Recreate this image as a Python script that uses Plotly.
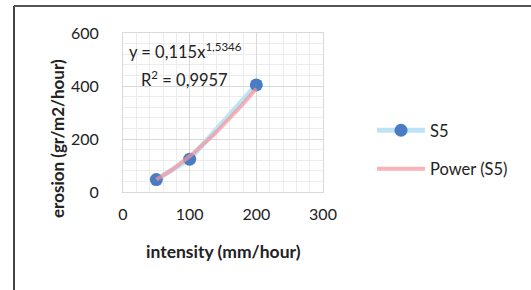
import numpy as np
import plotly.graph_objects as go

intensity = [50, 100, 200]
erosion = [47, 124, 404]
fit_a = 0.115
fit_b = 1.5346
series_name = "S5"
trend_name = "Power (S5)"

FONT = "Lato, 'Open Sans', sans-serif"
TXT = "#222222"

xt = np.linspace(min(intensity), max(intensity), 60)
yt = fit_a * xt ** fit_b

fig = go.Figure()
fig.add_trace(go.Scatter(
    x=intensity, y=erosion, mode="lines+markers", name=series_name,
    line=dict(color="#bfe3f6", width=5),
    marker=dict(color="#4a7cc4", size=13),
    legendgroup="a",
))
fig.add_trace(go.Scatter(
    x=xt, y=yt, mode="lines", name=trend_name,
    line=dict(color="rgba(244,150,155,0.7)", width=4),
    legendgroup="b",
))

grid = "#d9d9d9"
minor_grid = "#ececec"
fig.update_xaxes(
    range=[0, 300], dtick=100, showgrid=True, gridcolor=grid, gridwidth=1,
    minor=dict(dtick=20, showgrid=True, gridcolor=minor_grid, gridwidth=1),
    zeroline=False, showline=True, linecolor=grid, mirror=True,
    tickfont=dict(family=FONT, size=16, color=TXT), ticks="", ticklabelstandoff=8,
)
fig.update_yaxes(
    range=[0, 600], dtick=200, showgrid=True, gridcolor=grid, gridwidth=1,
    minor=dict(dtick=40, showgrid=True, gridcolor=minor_grid, gridwidth=1),
    zeroline=False, showline=True, linecolor=grid, mirror=True,
    tickfont=dict(family=FONT, size=16, color=TXT), ticks="", ticklabelstandoff=20,
)

annos = [
    dict(x=(57-123)/200, y=(192-139)/159, xref="paper", yref="paper", text="<b>erosion (gr/m2/hour)</b>",
         textangle=-90, showarrow=False, font=dict(family=FONT, size=17, color=TXT),
         xanchor="center", yanchor="middle"),
    dict(x=(223-123)/200, y=(192-251)/159, xref="paper", yref="paper", text="<b>intensity (mm/hour)</b>",
         showarrow=False, font=dict(family=FONT, size=17.5, color=TXT),
         xanchor="center", yanchor="middle"),
    dict(x=(127-123)/200, y=(192-51)/159, xref="paper", yref="paper",
         text="y = 0,115x<sup>1,5346</sup>", showarrow=False,
         font=dict(family=FONT, size=16.5, color=TXT), xanchor="left", yanchor="middle"),
    dict(x=(139-123)/200, y=(192-79)/159, xref="paper", yref="paper",
         text="R<sup>2</sup> = 0,9957", showarrow=False,
         font=dict(family=FONT, size=16.5, color=TXT), xanchor="left", yanchor="middle"),
]

fig.update_layout(
    width=531, height=290,
    margin=dict(l=123, r=208, t=33, b=98),
    paper_bgcolor="white", plot_bgcolor="white",
    showlegend=True,
    legend=dict(x=(372-123)/200, y=(192-113)/159, xanchor="left", yanchor="top",
                font=dict(family=FONT, size=16.5, color=TXT),
                tracegroupgap=14, itemwidth=48, bgcolor="rgba(0,0,0,0)"),
    annotations=annos,
    shapes=[
        dict(type="line", xref="paper", yref="paper",
             x0=(14-123)/200, x1=(14-123)/200, y0=(192-6)/159, y1=(192-295)/159,
             line=dict(color="#444", width=2)),
        dict(type="line", xref="paper", yref="paper",
             x0=(14-123)/200, x1=(540-123)/200, y0=(192-6)/159, y1=(192-6)/159,
             line=dict(color="#555", width=2)),
    ],
)

fig.write_html("out.html",
               config={"displayModeBar": False},
               post_script="document.body.style.margin='0';document.body.style.overflow='hidden';")
